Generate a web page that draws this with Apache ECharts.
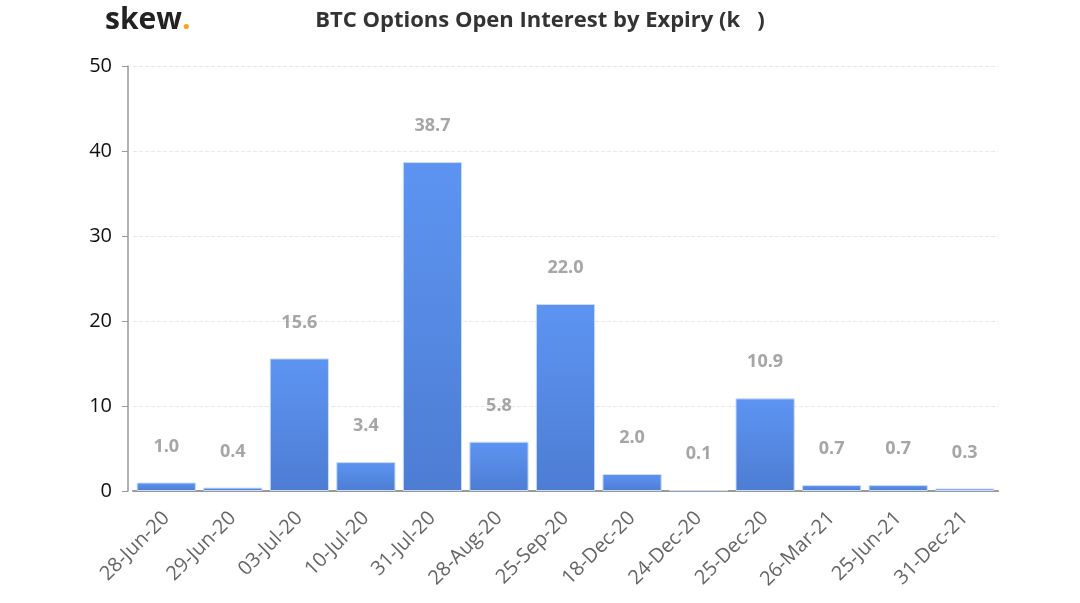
<!DOCTYPE html>
<html><head><meta charset="utf-8">
<script src="https://cdn.jsdelivr.net/npm/echarts@6/dist/echarts.min.js"></script>
<style>html,body{margin:0;padding:0;background:#fff}#c{width:1080px;height:603px}</style>
</head><body><div id="c"></div>
<script>
var categories = ['28-Jun-20','29-Jun-20','03-Jul-20','10-Jul-20','31-Jul-20','28-Aug-20','25-Sep-20','18-Dec-20','24-Dec-20','25-Dec-20','26-Mar-21','25-Jun-21','31-Dec-21'];
var openInterest = [1.0,0.4,15.6,3.4,38.7,5.8,22.0,2.0,0.1,10.9,0.7,0.7,0.3];
var chart = echarts.init(document.getElementById('c'));
chart.setOption({
  animation:false,
  title:[
    {text:'BTC Options Open Interest by Expiry (k   )',left:'center',top:5,textStyle:{fontFamily:'Open Sans',fontSize:22,fontWeight:'bold',color:'#333'}},
    {text:'skew{d|.}',left:100,top:0,textStyle:{fontFamily:'Open Sans',fontSize:30,fontWeight:'bold',color:'#222',rich:{d:{fontFamily:'Open Sans',fontSize:30,fontWeight:'bold',color:'#f5a623'}}}}
  ],
  grid:{left:133,right:82,top:66,bottom:112},
  xAxis:{type:'category',data:categories,
    axisLine:{lineStyle:{color:'#999',width:2}},axisTick:{show:false},
    axisLabel:{rotate:45,color:'#666',fontSize:20,fontFamily:'Open Sans',margin:24,interval:0}},
  yAxis:{type:'value',min:0,max:50,interval:10,offset:5,
    axisLine:{show:true,lineStyle:{color:'#999',width:1.5}},
    axisTick:{show:true,length:6,lineStyle:{color:'#999'}},
    axisLabel:{color:'#111',fontSize:20,fontFamily:'Open Sans',margin:16},
    splitLine:{lineStyle:{color:'#e8e8e8',type:'dashed'}}},
  series:[{type:'bar',data:openInterest,barCategoryGap:'11%',
    itemStyle:{color:new echarts.graphic.LinearGradient(0,0,0,1,[{offset:0,color:'#5d94f2'},{offset:1,color:'#4d7dd3'}]),borderColor:'#c9dcfb',borderWidth:1},
    label:{show:true,position:'top',distance:27,color:'#a6a6a6',fontSize:18,fontWeight:'bold',fontFamily:'Open Sans',formatter:function(p){return p.value.toFixed(1);}}}]
});
</script></body></html>
